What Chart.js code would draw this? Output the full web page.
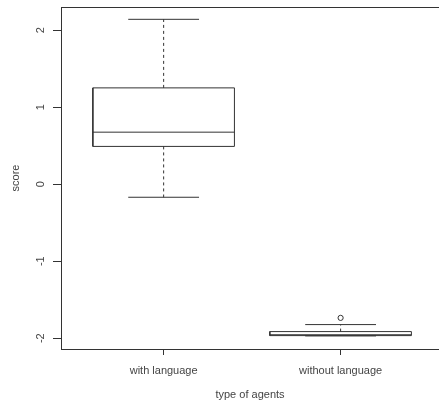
<!DOCTYPE html>
<html><head><meta charset="utf-8">
<script src="https://cdn.jsdelivr.net/npm/chart.js@4"></script>
<style>html,body{margin:0;padding:0;background:#fff;overflow:hidden}</style>
</head><body>
<canvas id="c" width="439" height="407" style="display:block;width:439px;height:407px"></canvas>
<script>
const categories = ['with language', 'without language'];
const whiskerLow = [-0.17, -1.97];
const q1 = [0.49, -1.966];
const median = [0.675, -1.955];
const q3 = [1.25, -1.914];
const whiskerHigh = [2.14, -1.823];
const outliers = [[], [-1.736]];
const yTicks = [-2, -1, 0, 1, 2];
const xTitle = 'type of agents';
const yTitle = 'score';

const LINE = '#333';
const TEXT = '#444';
const BOX_HALF = 0.4, CAP_HALF = 0.2;

Chart.defaults.font.family = "'Liberation Sans', Arial, sans-serif";
Chart.defaults.font.size = 11;
Chart.defaults.color = TEXT;

function seg(pts, dash) {
  return { data: pts, showLine: true, borderColor: LINE, borderWidth: 1,
           borderDash: dash || [], pointRadius: 0, pointHoverRadius: 0, fill: false, tension: 0 };
}
const datasets = [];
categories.forEach((c, i) => {
  const x = i + 1;
  datasets.push(seg([
    {x: x - BOX_HALF, y: q1[i]}, {x: x + BOX_HALF, y: q1[i]},
    {x: x + BOX_HALF, y: q3[i]}, {x: x - BOX_HALF, y: q3[i]},
    {x: x - BOX_HALF, y: q1[i]}]));
  datasets.push(seg([{x: x - BOX_HALF, y: median[i]}, {x: x + BOX_HALF, y: median[i]}]));
  datasets.push(seg([{x: x, y: q3[i]}, {x: x, y: whiskerHigh[i]}], [3, 3]));
  datasets.push(seg([{x: x, y: q1[i]}, {x: x, y: whiskerLow[i]}], [3, 3]));
  datasets.push(seg([{x: x - CAP_HALF, y: whiskerHigh[i]}, {x: x + CAP_HALF, y: whiskerHigh[i]}]));
  datasets.push(seg([{x: x - CAP_HALF, y: whiskerLow[i]}, {x: x + CAP_HALF, y: whiskerLow[i]}]));
  if (outliers[i].length) {
    datasets.push({ data: outliers[i].map(v => ({x: x, y: v})), showLine: false,
      pointRadius: 2.6, pointHoverRadius: 2.6, pointStyle: 'circle', pointBackgroundColor: 'rgba(0,0,0,0)',
      pointBorderColor: LINE, pointBorderWidth: 1 });
  }
});

function zeroPad(s) { s.paddingLeft = 0; s.paddingRight = 0; s.paddingTop = 0; s.paddingBottom = 0; }

new Chart(document.getElementById('c'), {
  type: 'scatter',
  data: { datasets },
  options: {
    responsive: false, animation: false,
    layout: { padding: 0, autoPadding: false },
    plugins: { legend: { display: false }, tooltip: { enabled: false } },
    scales: {
      x: {
        type: 'linear', position: 'bottom', min: 0.42, max: 2.556,
        afterBuildTicks: s => { s.ticks = categories.map((c, i) => ({value: i + 1})); },
        afterFit: s => { s.height = 58; zeroPad(s); },
        ticks: { callback: v => categories[Math.round(v) - 1], padding: 9, maxRotation: 0, autoSkip: false },
        grid: { drawOnChartArea: false, drawTicks: true, tickLength: 6, color: LINE },
        border: { display: true, color: LINE, width: 1 },
        title: { display: true, text: xTitle, padding: { top: 0, bottom: 5 } }
      },
      x2: {
        type: 'linear', position: 'top', min: 0.42, max: 2.556,
        afterFit: s => { s.height = 7; zeroPad(s); },
        ticks: { display: false },
        grid: { display: false },
        border: { display: true, color: LINE, width: 1 }
      },
      y: {
        type: 'linear', position: 'left', min: -2.14, max: 2.30,
        afterBuildTicks: s => { s.ticks = yTicks.map(v => ({value: v})); },
        afterFit: s => { s.width = 61; zeroPad(s); },
        ticks: { minRotation: 90, maxRotation: 90, crossAlign: 'center', padding: 7 },
        grid: { drawOnChartArea: false, drawTicks: true, tickLength: 8, color: LINE },
        border: { display: true, color: LINE, width: 1 },
        title: { display: true, text: yTitle, padding: { top: 9, bottom: 0 } }
      }
    }
  }
});
</script>
</body></html>
